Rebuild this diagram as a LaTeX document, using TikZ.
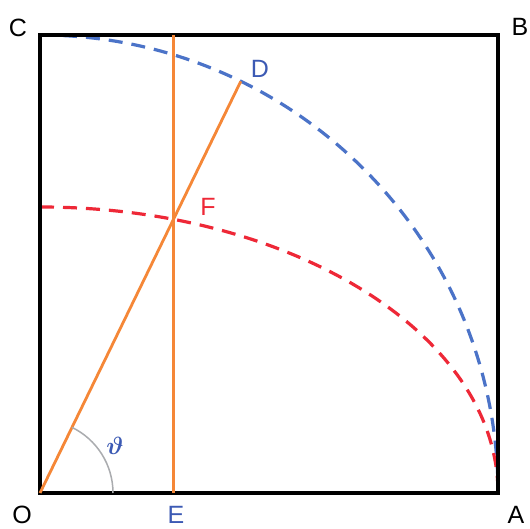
\documentclass[tikz,border=0pt]{standalone}
\usepackage{fontspec}
\setmainfont{Liberation Sans}
\begin{document}
\begin{tikzpicture}[x=1pt,y=1pt,
  frame/.style={draw=black,line width=3.2pt},
  orangeline/.style={draw=lorange,line width=2.8pt},
  bluearc/.style={draw=lblue,line width=3.2pt,dash pattern=on 14pt off 9pt},
  redarc/.style={draw=lred,line width=3.2pt,dash pattern=on 14pt off 9pt},
  anglearc/.style={draw=lgray,line width=1.5pt},
  lab/.style={font=\fontsize{25}{25}\selectfont,inner sep=0pt},
  ]
\definecolor{lorange}{RGB}{245,135,55}
\definecolor{lblue}{RGB}{75,115,200}
\definecolor{lred}{RGB}{238,40,55}
\definecolor{lgray}{RGB}{170,172,175}
\definecolor{tblue}{RGB}{60,90,180}
\useasboundingbox (-40,-35) rectangle (490,493);
\fill[white] (-40,-35) rectangle (490,493);
\coordinate (O) at (0,0);
\coordinate (A) at (458,0);
\coordinate (B) at (458,458);
\coordinate (C) at (0,458);
\coordinate (D) at (64:458);
\coordinate (E) at (133.4,0);
\coordinate (T) at (133.4,458);
\coordinate (F) at (133.4,273.6);
% arcs
\draw[bluearc] (C) arc[start angle=90,end angle=0,radius=458];
\draw[redarc] (0,286) arc[start angle=90,end angle=0,x radius=458,y radius=286];
% frame
\draw[frame] (O) -- (A) -- (B) -- (C) -- cycle;
% orange lines
\draw[orangeline] (O) -- (D);
\draw[orangeline] (E) -- (T);
% angle arc
\draw[anglearc] (73,0) arc[start angle=0,end angle=64,radius=73];
% labels
\node[lab] (lC) at (-22,465) {C};
\node[lab] (lB) at (480,466) {B};
\node[lab] (lO) at (-18,-22) {O};
\node[lab,text=tblue] (lE) at (136,-22) {E};
\node[lab] (lA) at (476,-22) {A};
\node[lab,text=tblue] (lD) at (220,424) {D};
\node[lab,text=lred] (lF) at (168,286) {F};
\node[inner sep=0pt,text=tblue,font=\fontsize{26}{26}\selectfont\boldmath] (lth) at (75,47) {$\vartheta$};
\end{tikzpicture}
\end{document}
